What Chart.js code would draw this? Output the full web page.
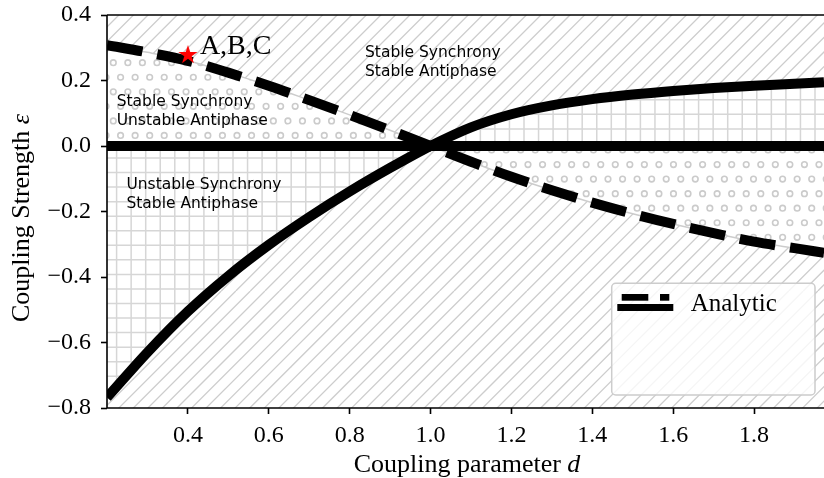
<!DOCTYPE html>
<html>
<head>
<meta charset="utf-8">
<script src="https://cdn.jsdelivr.net/npm/chart.js@4.4.1/dist/chart.umd.min.js"></script>
<style>
  html, body { margin: 0; padding: 0; background: #fff; }
</style>
</head>
<body>
<canvas id="chart" width="824" height="478"></canvas>
<script>
// coupling parameter d, sampled along the x axis
var dVals = [0.2, 0.3, 0.4, 0.5, 0.6, 0.7, 0.8, 0.9, 1.0, 1.1, 1.2, 1.3, 1.4, 1.5, 1.6, 1.7, 1.8, 1.9, 1.973];
// synchrony boundary (solid curve)
var syncEps = [-0.768, -0.630, -0.505, -0.397, -0.302, -0.217, -0.139, -0.067, 0.0, 0.057, 0.097, 0.124, 0.143, 0.157, 0.168, 0.177, 0.184, 0.190, 0.195];
// antiphase boundary (dashed curve)
var antiEps = [0.308, 0.286, 0.260, 0.224, 0.184, 0.140, 0.095, 0.048, 0.0, -0.048, -0.094, -0.135, -0.173, -0.207, -0.238, -0.266, -0.292, -0.312, -0.326];
// epsilon = 0 line
var zeroEps = [0, 0, 0, 0, 0, 0, 0, 0, 0, 0, 0, 0, 0, 0, 0, 0, 0, 0, 0];

var xTicks = [0.4, 0.6, 0.8, 1.0, 1.2, 1.4, 1.6, 1.8];
var yTicks = [-0.8, -0.6, -0.4, -0.2, 0.0, 0.2, 0.4];

// marked parameter point
var starD = [0.4];
var starEps = [0.278];
var starLabel = 'A,B,C';

// region labels (left edge, vertical centre)
var regionText = [['Stable Synchrony', 'Stable Antiphase'],
                  ['Stable Synchrony', 'Unstable Antiphase'],
                  ['Unstable Synchrony', 'Stable Antiphase']];
var regionD = [0.838, 0.224, 0.248];
var regionEps = [0.255, 0.105, -0.147];

var serif = '"Liberation Serif", "Times New Roman", serif';
var sans = '"DejaVu Sans", sans-serif';

function fmt(v) {
    return (v < 0 ? '\u2212' : '') + Math.abs(v).toFixed(1);
}
function pts(ys) {
    return dVals.map(function (d, i) { return {x: d, y: ys[i]}; });
}

// hatch patterns (matplotlib style), 20 periods per tile
var STEP = 14.55, NREP = 20, TILE = 291;
var ctx0 = document.getElementById('chart').getContext('2d');
function makeTile(draw) {
    var c = document.createElement('canvas');
    c.width = TILE; c.height = TILE;
    draw(c.getContext('2d'));
    return ctx0.createPattern(c, 'repeat');
}
var diagPattern = makeTile(function (g) {
    g.strokeStyle = '#cdcdcd';
    g.lineWidth = 1.3;
    for (var i = -NREP - 1; i <= NREP + 1; i++) {
        var o = i * STEP + 3;
        g.beginPath(); g.moveTo(o, TILE); g.lineTo(o + TILE, 0); g.stroke();
    }
});
var gridPattern = makeTile(function (g) {
    g.fillStyle = '#fff'; g.fillRect(0, 0, TILE, TILE);
    g.strokeStyle = '#d6d6d6';
    g.lineWidth = 1.5;
    for (var i = -1; i <= NREP; i++) {
        var p = i * STEP + 0.2, q = i * STEP + 12.5;
        g.beginPath(); g.moveTo(p, 0); g.lineTo(p, TILE); g.stroke();
        g.beginPath(); g.moveTo(0, q); g.lineTo(TILE, q); g.stroke();
    }
});
var dotPattern = makeTile(function (g) {
    g.fillStyle = '#fff'; g.fillRect(0, 0, TILE, TILE);
    g.strokeStyle = '#cbcbcb';
    g.lineWidth = 1.6;
    for (var j = -1; j <= NREP; j++) {
        for (var i = -1; i <= NREP; i++) {
            var cx = 11.45 + i * STEP + (Math.abs(j) % 2 ? STEP / 2 : 0);
            var cy = 4.5 + j * STEP;
            g.beginPath(); g.arc(cx, cy, 2.8, 0, Math.PI * 2); g.stroke();
        }
    }
});

// filled red star marker
var starImg = document.createElement('canvas');
starImg.width = 24; starImg.height = 24;
(function () {
    var g = starImg.getContext('2d');
    var R = 10.1, r = R * 0.382;
    g.fillStyle = '#ff0000';
    g.beginPath();
    for (var k = 0; k < 10; k++) {
        var a = -Math.PI / 2 + k * Math.PI / 5;
        var rr = k % 2 ? r : R;
        g.lineTo(12 + rr * Math.cos(a), 12 + rr * Math.sin(a));
    }
    g.closePath();
    g.fill();
})();

var decor = {
    id: 'decor',
    beforeDraw: function (chart) {
        var c = chart.ctx;
        c.save();
        c.fillStyle = '#fff';
        c.fillRect(0, 0, chart.width, chart.height);
        c.restore();
    },
    beforeDatasetsDraw: function (chart) {
        var a = chart.chartArea, c = chart.ctx;
        c.save();
        c.fillStyle = diagPattern;
        c.fillRect(a.left, a.top, a.right - a.left, a.bottom - a.top);
        c.restore();
    },
    afterDatasetsDraw: function (chart) {
        var a = chart.chartArea, c = chart.ctx;
        var xs = chart.scales.x, ys = chart.scales.y;
        c.save();

        // region labels
        c.fillStyle = '#000';
        c.font = '15.5px ' + sans;
        c.textAlign = 'left';
        c.textBaseline = 'middle';
        regionText.forEach(function (lines, i) {
            var px = xs.getPixelForValue(regionD[i]);
            var py = ys.getPixelForValue(regionEps[i]);
            c.fillText(lines[0], px, py - 9.5);
            c.fillText(lines[1], px, py + 9.5);
        });

        // star label
        c.font = '28px ' + serif;
        c.textBaseline = 'alphabetic';
        c.fillText(starLabel, xs.getPixelForValue(starD[0]) + 12, ys.getPixelForValue(starEps[0]) - 1);

        // spines
        c.strokeStyle = '#000';
        c.lineWidth = 1.6;
        c.beginPath();
        c.moveTo(a.left, a.top); c.lineTo(a.right, a.top);
        c.moveTo(a.left, a.top); c.lineTo(a.left, a.bottom);
        c.moveTo(a.left, a.bottom); c.lineTo(a.right, a.bottom);
        c.stroke();

        // axis titles with italic symbols
        function mixed(parts, cx, baseY) {
            var w = 0;
            parts.forEach(function (p) { c.font = p[1] + ' 26px ' + serif; w += c.measureText(p[0]).width; });
            var x = cx - w / 2;
            parts.forEach(function (p) {
                c.font = p[1] + ' 26px ' + serif;
                c.fillText(p[0], x, baseY);
                x += c.measureText(p[0]).width;
            });
        }
        c.textAlign = 'left';
        c.textBaseline = 'alphabetic';
        mixed([['Coupling parameter ', 'normal'], ['d', 'italic']], 467, 472);
        c.save();
        c.translate(28.5, 218);
        c.rotate(-Math.PI / 2);
        mixed([['Coupling Strength ', 'normal'], ['\u03b5', 'italic']], 0, 0);
        c.restore();

        // legend
        var lx = a.right - 212.3, ly = a.bottom - 124.7, lw = 203.3, lh = 111.7;
        c.fillStyle = 'rgba(255,255,255,0.8)';
        c.strokeStyle = '#cccccc';
        c.lineWidth = 1.5;
        c.beginPath();
        c.roundRect(lx, ly, lw, lh, 4);
        c.fill();
        c.stroke();
        c.fillStyle = '#000';
        c.fillRect(lx + 10, ly + 10.7, 26.6, 6.7);
        c.fillRect(lx + 48.3, ly + 10.7, 9.3, 6.7);
        c.fillRect(lx + 5.6, ly + 20.7, 56, 7);
        c.font = '25px ' + serif;
        c.fillText('Analytic', lx + 79, ly + 27.7);

        c.restore();
    }
};

function noPad(s) {
    s.paddingTop = 0; s.paddingBottom = 0; s.paddingLeft = 0; s.paddingRight = 0;
}

var tickFont = {family: serif, size: 24};

var chart = new Chart('chart', {
    type: 'line',
    data: {
        datasets: [
            {
                label: 'marker',
                data: [{x: starD[0], y: starEps[0]}],
                showLine: false,
                pointStyle: starImg,
                pointRadius: 10,
                order: 0
            },
            {
                label: 'zero',
                data: pts(zeroEps),
                borderColor: '#000',
                borderWidth: 10,
                pointRadius: 0,
                fill: false,
                clip: 0,
                order: 1
            },
            {
                label: 'Analytic (antiphase)',
                data: pts(antiEps),
                borderColor: '#000',
                borderWidth: 10,
                borderDash: [36, 15],
                pointRadius: 0,
                fill: false,
                cubicInterpolationMode: 'monotone',
                clip: 0,
                order: 2
            },
            {
                label: 'Analytic (synchrony)',
                data: pts(syncEps),
                borderColor: '#000',
                borderWidth: 10,
                pointRadius: 0,
                fill: false,
                cubicInterpolationMode: 'monotone',
                clip: 0,
                order: 3
            },
            {
                label: 'dots region',
                data: pts(antiEps),
                borderColor: '#cccccc',
                borderWidth: 1.5,
                backgroundColor: dotPattern,
                pointRadius: 0,
                fill: {value: 0},
                cubicInterpolationMode: 'monotone',
                clip: 0,
                order: 4
            },
            {
                label: 'grid region',
                data: pts(syncEps),
                borderWidth: 0,
                backgroundColor: gridPattern,
                pointRadius: 0,
                fill: {value: 0},
                cubicInterpolationMode: 'monotone',
                clip: 0,
                order: 5
            }
        ]
    },
    options: {
        responsive: false,
        devicePixelRatio: 1,
        animation: false,
        events: [],
        layout: {autoPadding: false, padding: {top: 15, left: 0, right: 0, bottom: 0}},
        plugins: {
            legend: {display: false},
            tooltip: {enabled: false}
        },
        scales: {
            x: {
                type: 'linear',
                min: 0.2,
                max: 1.973,
                afterBuildTicks: function (s) { s.ticks = xTicks.map(function (v) { return {value: v}; }); },
                afterFit: function (s) { s.height = 70; noPad(s); },
                ticks: {
                    callback: fmt, font: tickFont, color: '#000',
                    padding: 7, maxRotation: 0, autoSkip: false
                },
                grid: {drawOnChartArea: false, drawTicks: true, tickLength: 6, tickWidth: 1.6, tickColor: '#000'},
                border: {display: false}
            },
            y: {
                type: 'linear',
                min: -0.8,
                max: 0.4,
                afterBuildTicks: function (s) { s.ticks = yTicks.map(function (v) { return {value: v}; }); },
                afterFit: function (s) { s.width = 107; noPad(s); },
                ticks: {callback: fmt, font: tickFont, color: '#000', padding: 10, autoSkip: false},
                grid: {drawOnChartArea: false, drawTicks: true, tickLength: 6, tickWidth: 1.6, tickColor: '#000'},
                border: {display: false}
            }
        }
    },
    plugins: [decor]
});
</script>
</body>
</html>
